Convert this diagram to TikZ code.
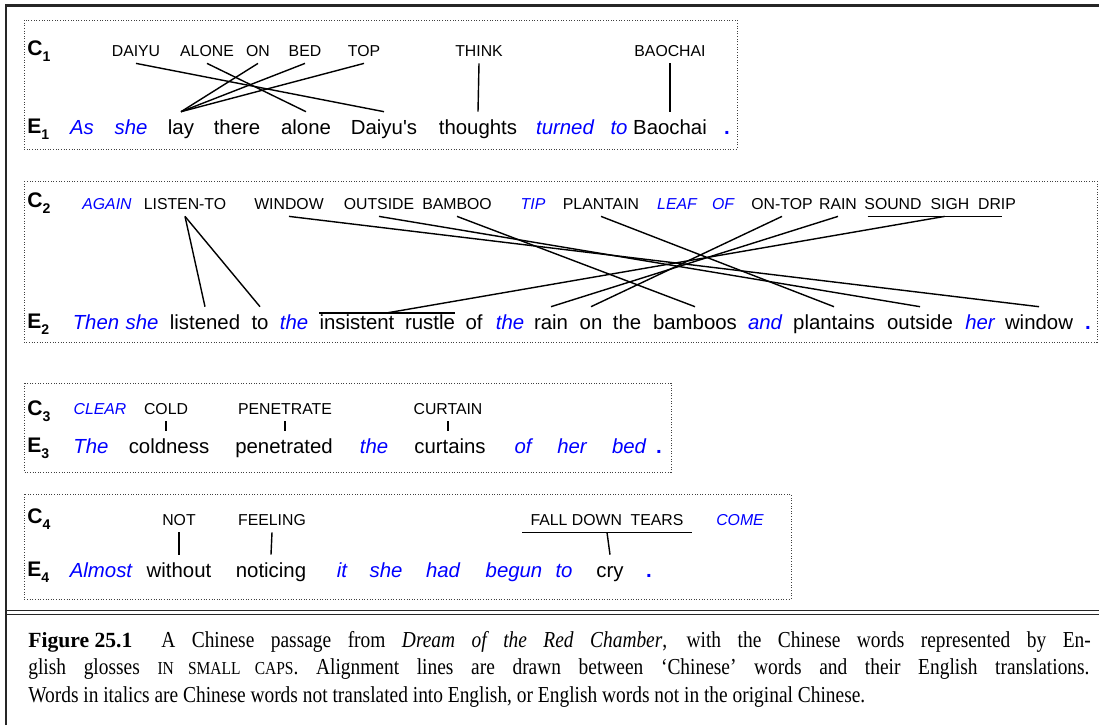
\documentclass[tikz,border=0pt]{standalone}
\usepackage{fontspec}
\setmainfont{Liberation Serif}
\setsansfont{Liberation Sans}[Ligatures=TeXOff]
\newfontfamily\capfont[FakeStretch=0.85]{Liberation Serif}
\usetikzlibrary{calc}

\newcommand{\glossfont}{\sffamily\fontsize{9}{10}\selectfont}
\newcommand{\wordfont}{\sffamily\fontsize{11.6}{13}\selectfont}
\newcommand{\rowlab}[2]{#1\raisebox{-3.5pt}{\fontsize{8}{8}\selectfont #2}}

\tikzset{
        gloss/.style={anchor=base, inner xsep=0pt, inner ysep=4pt, text depth=0pt, font=\glossfont},
        addgloss/.style={gloss, text=blue, font=\glossfont\itshape},
        word/.style={anchor=base, inner xsep=0pt, inner ysep=4pt, text height=8.5pt, font=\wordfont},
        addword/.style={word, text=blue, font=\wordfont\itshape},
        stop/.style={word, text=blue, font=\wordfont\bfseries},
        rowlabel/.style={anchor=base west, inner sep=0pt, font=\sffamily\bfseries\fontsize{12}{14}\selectfont},
        link/.style={line width=0.8pt},
        panel/.style={draw=black!75, densely dotted, line width=0.5pt},
        frame/.style={line width=1.3pt, black!85},
        rule/.style={line width=0.8pt, black!85},
        capline/.style={anchor=base west, inner sep=0pt, font=\capfont\fontsize{13}{15}\selectfont},
    }

\begin{document}
\begin{tikzpicture}[x=0.02cm, y=-0.02cm]
        \useasboundingbox (0,0) rectangle (1099,725);
        \clip (0,0) rectangle (1099,725);

        % Outer frame and double rule
        \draw[frame] (6,725) -- (6,5.5) -- (1099,5.5);
        \draw[rule] (6,610.5) -- (1099,610.5);
        \draw[rule] (6,614.5) -- (1099,614.5);

        % Dotted panels
        \draw[panel] (24,20) rectangle (737,149);
        \draw[panel] (24,181) rectangle (1097,342);
        \draw[panel] (24,383) rectangle (671,472);
        \draw[panel] (24,494) rectangle (791,599);

        % ---------- Row 1 ----------
        \node[rowlabel] (c1) at (27,55) {\rowlab{C}{1}};
        \node[rowlabel] (e1) at (27,133) {\rowlab{E}{1}};

        \node[gloss] (daiyuG) at (136,56) {DAIYU};
        \node[gloss] (aloneG) at (207,56) {ALONE};
        \node[gloss] (onG) at (258,56) {ON};
        \node[gloss] (bedG) at (305,56) {BED};
        \node[gloss] (topG) at (364,56) {TOP};
        \node[gloss] (thinkG) at (479,56) {THINK};
        \node[gloss] (baochaiG) at (670,56) {BAOCHAI};

        \node[addword] (asE) at (82,134) {As};
        \node[addword] (sheE) at (131,134) {she};
        \node[word] (layE) at (181,134) {lay};
        \node[word] (thereE) at (237,134) {there};
        \node[word] (aloneE) at (306,134) {alone};
        \node[word] (daiyusE) at (384,134) {Daiyu's};
        \node[word] (thoughtsE) at (478,134) {thoughts};
        \node[addword] (turnedE) at (565,134) {turned};
        \node[addword] (toE) at (619,134) {to};
        \node[word] (baochaiE) at (670,134) {Baochai};
        \node[stop] (stopE1) at (727,134) {.};

        \draw[link] (daiyuG.south) -- (daiyusE.north);
        \draw[link] (aloneG.south) -- (aloneE.north);
        \draw[link] (onG.south) -- (layE.north);
        \draw[link] (bedG.south) -- (layE.north);
        \draw[link] (topG.south) -- (layE.north);
        \draw[link] (thinkG.south) -- (thoughtsE.north);
        \draw[link] (baochaiG.south) -- (baochaiE.north);

        % ---------- Row 2 ----------
        \node[rowlabel] (c2) at (27,207) {\rowlab{C}{2}};
        \node[rowlabel] (e2) at (27,328) {\rowlab{E}{2}};

        \node[addgloss] (againG) at (107,209) {AGAIN};
        \node[gloss] (listenG) at (185,209) {LISTEN-TO};
        \node[gloss] (windowG) at (289,209) {WINDOW};
        \node[gloss] (outsideG) at (379,209) {OUTSIDE};
        \node[gloss] (bambooG) at (457,209) {BAMBOO};
        \node[addgloss] (tipG) at (533,209) {TIP};
        \node[gloss] (plantainG) at (601,209) {PLANTAIN};
        \node[addgloss] (leafG) at (677,209) {LEAF};
        \node[addgloss] (ofG) at (723,209) {OF};
        \node[gloss] (ontopG) at (782,209) {ON-TOP};
        \node[gloss] (rainG) at (838,209) {RAIN};
        \node[gloss] (soundG) at (893,209) {SOUND};
        \node[gloss] (sighG) at (950,209) {SIGH};
        \node[gloss] (dripG) at (997,209) {DRIP};

        \node[addword] (thenE) at (96,329) {Then};
        \node[addword] (she2E) at (142,329) {she};
        \node[word] (listenedE) at (205,329) {listened};
        \node[word] (to2E) at (260,329) {to};
        \node[addword] (theaE) at (294,329) {the};
        \node[word] (insistentE) at (357,329) {insistent};
        \node[word] (rustleE) at (430,329) {rustle};
        \node[word] (ofE) at (474,329) {of};
        \node[addword] (thebE) at (510,329) {the};
        \node[word] (rainE) at (551,329) {rain};
        \node[word] (onE) at (591,329) {on};
        \node[word] (thecE) at (627,329) {the};
        \node[word] (bamboosE) at (695,329) {bamboos};
        \node[addword] (andE) at (765,329) {and};
        \node[word] (plantainsE) at (834,329) {plantains};
        \node[word] (outsideE) at (920,329) {outside};
        \node[addword] (herE) at (980,329) {her};
        \node[word] (windowE) at (1039,329) {window};
        \node[stop] (stopE2) at (1088,329) {.};

        % bars over the grouped words
        \draw[link] ([xshift=2pt]soundG.south west) -- ([xshift=-8pt]dripG.south east);
        \draw[link] ([yshift=-3.5pt]insistentE.north west) -- ([yshift=-3.5pt]rustleE.north east);
        \coordinate (soundbar) at ([xshift=-3pt]sighG.south);
        \coordinate (rustlebar) at ($([yshift=-3.5pt]insistentE.north west)!0.5!([yshift=-3.5pt]rustleE.north east)$);

        \draw[link] (listenG.south) -- (listenedE.north);
        \draw[link] (listenG.south) -- (to2E.north);
        \draw[link] (windowG.south) -- (windowE.north);
        \draw[link] (outsideG.south) -- (outsideE.north);
        \draw[link] (bambooG.south) -- (bamboosE.north);
        \draw[link] (plantainG.south) -- (plantainsE.north);
        \draw[link] (ontopG.south) -- (onE.north);
        \draw[link] (rainG.south) -- (rainE.north);
        \draw[link] (soundbar) -- (rustlebar);

        % ---------- Row 3 ----------
        \node[rowlabel] (c3) at (27,415) {\rowlab{C}{3}};
        \node[rowlabel] (e3) at (27,452) {\rowlab{E}{3}};

        \node[addgloss] (clearG) at (100,414) {CLEAR};
        \node[gloss] (coldG) at (166,414) {COLD};
        \node[gloss] (penetrateG) at (285,414) {PENETRATE};
        \node[gloss] (curtainG) at (448,414) {CURTAIN};

        \node[addword] (the3aE) at (91,453) {The};
        \node[word] (coldnessE) at (169,453) {coldness};
        \node[word] (penetratedE) at (284,453) {penetrated};
        \node[addword] (the3bE) at (374,453) {the};
        \node[word] (curtainsE) at (450,453) {curtains};
        \node[addword] (of3E) at (523,453) {of};
        \node[addword] (her3E) at (572,453) {her};
        \node[addword] (bedE) at (629,453) {bed};
        \node[stop] (stopE3) at (659,453) {.};

        \draw[link] (coldG.south) -- (coldG.south |- coldnessE.north);
        \draw[link] (penetrateG.south) -- (penetrateG.south |- penetratedE.north);
        \draw[link] (curtainG.south) -- (curtainG.south |- curtainsE.north);

        % ---------- Row 4 ----------
        \node[rowlabel] (c4) at (27,523) {\rowlab{C}{4}};
        \node[rowlabel] (e4) at (27,576) {\rowlab{E}{4}};

        \node[gloss] (notG) at (179,525) {NOT};
        \node[gloss] (feelingG) at (272,525) {FEELING};
        \node[gloss] (tearsG) at (607,525) {FALL DOWN\ \ TEARS};
        \node[addgloss] (comeG) at (740,525) {COME};

        \node[addword] (almostE) at (101,577) {Almost};
        \node[word] (withoutE) at (179,577) {without};
        \node[word] (noticingE) at (271,577) {noticing};
        \node[addword] (itE) at (342,577) {it};
        \node[addword] (she4E) at (386,577) {she};
        \node[addword] (hadE) at (443,577) {had};
        \node[addword] (begunE) at (514,577) {begun};
        \node[addword] (to4E) at (564,577) {to};
        \node[word] (cryE) at (610,577) {cry};
        \node[stop] (stopE4) at (649,577) {.};

        \draw[link] ([xshift=-4.5pt]tearsG.south west) -- ([xshift=4.5pt]tearsG.south east);
        \draw[link] (notG.south) -- (withoutE.north);
        \draw[link] (feelingG.south) -- (noticingE.north);
        \draw[link] (tearsG.south) -- (cryE.north);

        % ---------- Caption ----------
        \node[capline] (figno) at (28,647) {\rmfamily\bfseries\fontsize{12.3}{15}\selectfont Figure 25.1};
        \node[capline] (cap1) at (161,647) {\makebox[529pt][s]{A Chinese passage from \textit{Dream of the Red Chamber}, with the Chinese words represented by En-}};
        \node[capline] (cap2) at (28,674) {\makebox[604pt][s]{glish glosses {\fontsize{10.4}{12}\selectfont IN SMALL CAPS}. Alignment lines are drawn between ‘Chinese’ words and their English translations.}};
        \node[capline] (cap3) at (28,702) {Words in italics are Chinese words not translated into English, or English words not in the original Chinese.};

    \end{tikzpicture}
\end{document}
